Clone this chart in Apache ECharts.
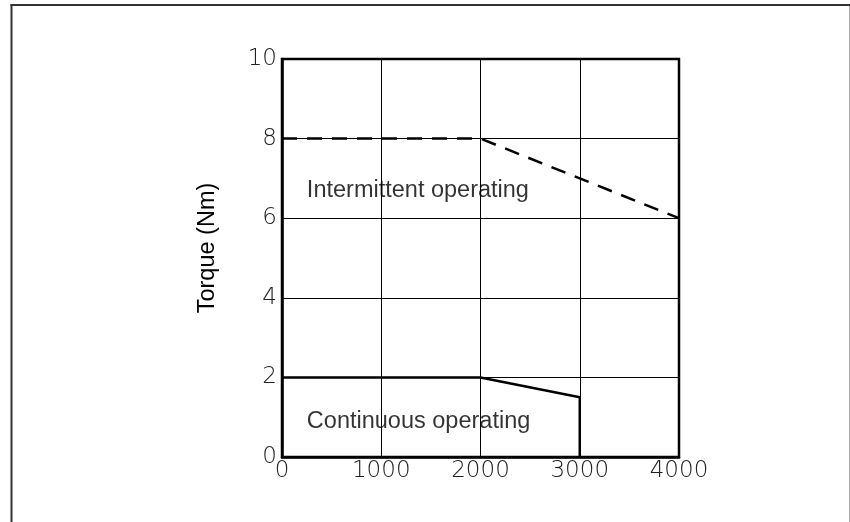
<!DOCTYPE html>
<html>
<head>
<meta charset="utf-8">
<script src="https://cdn.jsdelivr.net/npm/echarts@6/dist/echarts.min.js"></script>
<style>
html,body{margin:0;padding:0;background:#fff;}
#chart{width:850px;height:522px;}
</style>
</head>
<body>
<div id="chart"></div>
<script>
// Data
const xTicks = [0, 1000, 2000, 3000, 4000];
const yTicks = [0, 2, 4, 6, 8, 10];
const intermittentX = [0, 2000, 4000];
const intermittentY = [8, 8, 6];
const continuousX = [0, 2000, 3000, 3000];
const continuousY = [2, 2, 1.5, 0];
const annotationText = ['Intermittent operating', 'Continuous operating'];
const annotationX = [250, 250];
const annotationY = [6.7, 0.9];
const yAxisTitle = 'Torque (Nm)';

const zip = (xs, ys) => xs.map((x, i) => [x, ys[i]]);
const tickFont = {fontFamily: 'DejaVu Sans', fontWeight: 200, fontSize: 23, color: '#222'};
const textFont = {fontFamily: '"Liberation Sans", Arial, sans-serif', fontSize: 23.5, color: '#000'};

const chart = echarts.init(document.getElementById('chart'), null, {renderer: 'canvas'});
chart.setOption({
  animation: false,
  backgroundColor: '#fff',
  grid: {left: 282, top: 59, right: 171, bottom: 65, show: true, borderColor: '#000', borderWidth: 2.5, backgroundColor: 'transparent'},
  xAxis: {
    type: 'value', min: xTicks[0], max: xTicks[xTicks.length - 1], interval: 1000,
    axisLine: {show: true, onZero: false, lineStyle: {color: '#000', width: 2.5}},
    axisTick: {show: false},
    splitLine: {show: true, lineStyle: {color: '#000', width: 1}},
    axisLabel: Object.assign({margin: 3, formatter: v => String(v)}, tickFont)
  },
  yAxis: {
    type: 'value', min: yTicks[0], max: yTicks[yTicks.length - 1], interval: 2,
    name: yAxisTitle, nameLocation: 'middle', nameGap: 62,
    nameTextStyle: Object.assign({padding: [0, 0, 0, 20]}, textFont),
    axisLine: {show: true, onZero: false, lineStyle: {color: '#000', width: 2.5}},
    axisTick: {show: false},
    splitLine: {show: true, lineStyle: {color: '#000', width: 1}},
    axisLabel: Object.assign({margin: 5, formatter: v => String(v)}, tickFont)
  },
  series: [
    {
      type: 'line', data: zip(intermittentX, intermittentY), symbol: 'none',
      lineStyle: {color: '#000', width: 2.5, type: [15, 10]}, z: 5
    },
    {
      type: 'line', data: zip(continuousX, continuousY), symbol: 'none',
      lineStyle: {color: '#000', width: 2.5, type: 'solid'}, z: 5
    },
    {
      type: 'scatter', symbolSize: 0.1, itemStyle: {color: 'transparent'},
      data: annotationX.map((x, i) => ({value: [x, annotationY[i]], name: annotationText[i]})),
      label: Object.assign({show: true, position: 'right', distance: 0, formatter: p => p.name, verticalAlign: 'middle'}, textFont),
      silent: true, z: 6
    }
  ],
  graphic: [
    {type: 'line', shape: {x1: 11.5, y1: 4, x2: 11.5, y2: 522}, style: {stroke: '#333', lineWidth: 2}},
    {type: 'line', shape: {x1: 10.5, y1: 5, x2: 850, y2: 5}, style: {stroke: '#333', lineWidth: 2}},
    {type: 'line', shape: {x1: 849.5, y1: 6, x2: 849.5, y2: 522}, style: {stroke: '#aaa', lineWidth: 1}}
  ]
});
</script>
</body>
</html>
